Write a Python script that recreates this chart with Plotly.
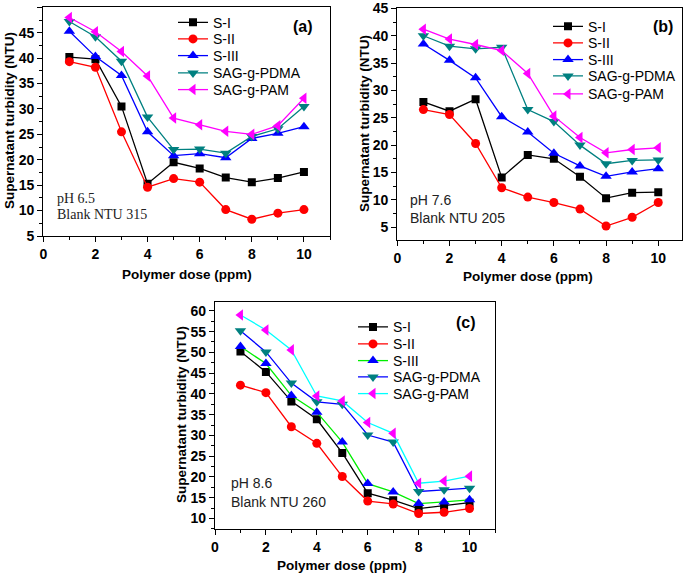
import plotly.graph_objects as go

W, H = 685, 574

dose = [1, 2, 3, 4, 5, 6, 7, 8, 9, 10]
series_names = ["S-I", "S-II", "S-III", "SAG-g-PDMA", "SAG-g-PAM"]

# Panel (a) pH 6.5
a_SI = [40.2, 39.8, 30.5, 15.3, 19.5, 18.3, 16.5, 15.6, 16.4, 17.6]
a_SII = [39.3, 38.2, 25.5, 14.6, 16.3, 15.6, 10.2, 8.3, 9.5, 10.2]
a_SIII = [45.3, 40.3, 36.6, 25.5, 20.8, 21.2, 20.4, 24.2, 25.2, 26.5]
a_PDMA = [47.2, 44.2, 39.4, 28.4, 22.0, 22.1, 21.3, 24.6, 26.1, 30.5]
a_PAM = [48.0, 45.2, 41.3, 36.5, 28.2, 26.9, 25.6, 25.0, 26.7, 32.1]

# Panel (b) pH 7.6
b_SI = [27.9, 26.2, 28.4, 14.1, 18.2, 17.5, 14.2, 10.3, 11.3, 11.4]
b_SII = [26.5, 25.6, 20.3, 12.2, 10.5, 9.5, 8.3, 5.2, 6.8, 9.5]
b_SIII = [38.5, 35.5, 32.3, 25.2, 22.4, 18.5, 16.2, 14.3, 15.1, 15.7]
b_PDMA = [40.0, 38.1, 37.6, 37.9, 26.5, 24.3, 20.0, 16.6, 17.2, 17.3]
b_PAM = [41.2, 39.4, 38.4, 37.3, 33.1, 25.3, 21.4, 18.6, 19.2, 19.5]

# Panel (c) pH 8.6
c_SI = [50.2, 45.3, 38.2, 33.9, 25.8, 16.1, 14.4, 12.4, 13.1, 13.8]
c_SII = [42.1, 40.3, 32.1, 28.1, 20.1, 14.2, 13.5, 11.2, 11.5, 12.4]
c_SIII = [51.4, 47.3, 39.6, 35.6, 28.4, 18.4, 16.4, 13.6, 14.0, 14.5]
c_PDMA = [55.2, 50.1, 42.6, 38.1, 37.5, 30.1, 28.4, 16.5, 16.9, 17.3]
c_PAM = [59.0, 55.4, 50.6, 39.5, 38.3, 33.1, 30.5, 18.5, 19.0, 20.2]

x_ticks = [0, 2, 4, 6, 8, 10]
a_yticks = [5, 10, 15, 20, 25, 30, 35, 40, 45, 50]
b_yticks = [5, 10, 15, 20, 25, 30, 35, 40, 45]
c_yticks = [10, 15, 20, 25, 30, 35, 40, 45, 50, 55, 60]

symbols = ["square", "circle", "triangle-up", "triangle-down", "triangle-left"]
marker_colors = ["#000000", "#ff0000", "#0000ff", "#008080", "#ff00ff"]
line_colors_ab = ["#000000", "#ff0000", "#0000ff", "#008080", "#ff00ff"]
line_colors_c = ["#000000", "#ff0000", "#00ee00", "#0000ff", "#00ffff"]
marker_sizes = [8, 9, 10, 10, 10]


def px_x(p):
    return p / W


def px_y(p):
    return 1 - p / H


# legend layout per panel: left x of legend box, row centre y's (pixels)
legend_rows = [
    (173, [22.7, 39.3, 56.0, 73.3, 90.0]),
    (548, [26.7, 43.3, 60.0, 76.3, 94.3]),
    (353, [327.3, 344.3, 361.0, 377.3, 394.0]),
]

fig = go.Figure()

panels = [
    ("x", "y", [a_SI, a_SII, a_SIII, a_PDMA, a_PAM], line_colors_ab),
    ("x2", "y2", [b_SI, b_SII, b_SIII, b_PDMA, b_PAM], line_colors_ab),
    ("x3", "y3", [c_SI, c_SII, c_SIII, c_PDMA, c_PAM], line_colors_c),
]

legfont = dict(family="Liberation Sans, Arial", size=14, color="black")
legend_layouts = {}
k = 0
for p, (xa, ya, data, lcols) in enumerate(panels):
    lx, rows = legend_rows[p]
    for i, (name, vals) in enumerate(zip(series_names, data)):
        k += 1
        lname = "legend" if k == 1 else f"legend{k}"
        fig.add_trace(go.Scatter(
            x=dose, y=vals, name=name, mode="lines+markers",
            xaxis=xa, yaxis=ya, legend=lname,
            line=dict(color=lcols[i], width=1.3),
            marker=dict(symbol=symbols[i], size=marker_sizes[i], color=marker_colors[i],
                        line=dict(width=0)),
        ))
        legend_layouts[lname] = dict(
            x=px_x(lx), y=px_y(rows[i]), xanchor="left", yanchor="middle",
            bgcolor="rgba(0,0,0,0)", borderwidth=0, font=legfont, itemwidth=30,
        )

tickfont = dict(family="Liberation Sans, Arial", size=14, color="black", weight="bold")


def xaxis_cfg(x0, x1, rng, anchor):
    return dict(domain=[px_x(x0), px_x(x1)], range=rng, tickvals=x_ticks, anchor=anchor,
                showline=True, linecolor="black", linewidth=1.3, mirror=True,
                ticks="outside", ticklen=5, tickwidth=1.2, tickcolor="black",
                minor=dict(dtick=1, tick0=1, ticks="outside", ticklen=3, tickwidth=1, tickcolor="black"),
                showgrid=False, zeroline=False, tickfont=tickfont, automargin=False)


def yaxis_cfg(y0, y1, rng, tv, anchor):
    return dict(domain=[px_y(y1), px_y(y0)], range=rng, tickvals=tv, anchor=anchor,
                showline=True, linecolor="black", linewidth=1.3, mirror=True,
                ticks="outside", ticklen=5, tickwidth=1.2, tickcolor="black",
                minor=dict(dtick=2.5, tick0=2.5, ticks="outside", ticklen=3, tickwidth=1, tickcolor="black"),
                showgrid=False, zeroline=False, tickfont=tickfont, automargin=False)


fig.update_layout(
    width=W, height=H, margin=dict(l=0, r=0, t=0, b=0, autoexpand=False),
    paper_bgcolor="white", plot_bgcolor="white",
    xaxis=xaxis_cfg(43.3, 330, [0, 11], "y"),
    yaxis=yaxis_cfg(7.3, 236, [5, 50], a_yticks, "x"),
    xaxis2=xaxis_cfg(397.3, 682, [0, 10.91], "y2"),
    yaxis2=yaxis_cfg(8.4, 240, [2.65, 45], b_yticks, "x2"),
    xaxis3=xaxis_cfg(215, 495, [0, 11], "y3"),
    yaxis3=yaxis_cfg(301.7, 529.3, [7.4, 62.2], c_yticks, "x3"),
    showlegend=True,
    **legend_layouts,
)

ann = []
title_font = dict(family="Liberation Sans, Arial", size=13.5, color="black", weight="bold")
for cx, cy in [(187, 275), (528, 277), (342, 565)]:
    ann.append(dict(text="Polymer dose (ppm)", x=px_x(cx), y=px_y(cy), xref="paper", yref="paper",
                    showarrow=False, font=title_font, xanchor="center", yanchor="middle"))
for cx, cy in [(10, 121), (364, 124), (181, 415)]:
    ann.append(dict(text="Supernatant turbidity (NTU)", x=px_x(cx), y=px_y(cy), xref="paper", yref="paper",
                    showarrow=False, font=title_font, textangle=-90, xanchor="center", yanchor="middle"))
for t, cx, cy in [("(a)", 303, 27), ("(b)", 663, 27), ("(c)", 466, 322)]:
    ann.append(dict(text=t, x=px_x(cx), y=px_y(cy), xref="paper", yref="paper", showarrow=False,
                    font=dict(family="Liberation Sans, Arial", size=16, color="black", weight="bold"),
                    xanchor="center", yanchor="middle"))
serif = dict(family="Liberation Serif, Times New Roman", size=14, color="#222222")
sans = dict(family="Liberation Sans, Arial", size=14, color="#222222")
notes = [("pH 6.5", 55, 198.5, serif), ("Blank NTU 315", 55, 214.5, serif),
         ("pH 7.6", 408, 200.5, sans), ("Blank NTU 205", 408, 217.5, sans),
         ("pH 8.6", 229, 483, sans), ("Blank NTU 260", 229, 502, sans)]
for t, cx, cy, f in notes:
    ann.append(dict(text=t, x=px_x(cx), y=px_y(cy), xref="paper", yref="paper", showarrow=False,
                    font=f, xanchor="left", yanchor="middle"))

fig.update_layout(annotations=ann)

fig.write_html("out.html", config={"displayModeBar": False},
               post_script="document.body.style.margin='0px';")
